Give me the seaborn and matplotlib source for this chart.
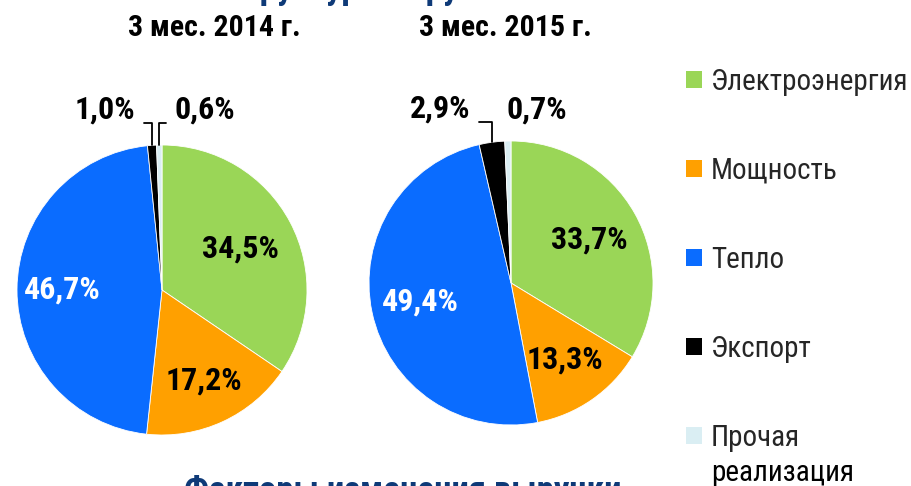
import numpy as np
import matplotlib
matplotlib.use("Agg")
import matplotlib.pyplot as plt
from matplotlib import font_manager
from matplotlib.patches import Patch
import seaborn as sns

# data
categories = ["Электроэнергия", "Мощность", "Тепло", "Экспорт", "Прочая"]
last_label_tail = "реализация"
share_2014 = [34.5, 17.2, 46.7, 1.0, 0.6]
share_2015 = [33.7, 13.3, 49.4, 2.9, 0.7]
labels_2014 = ["34,5%", "17,2%", "46,7%", "1,0%", "0,6%"]
labels_2015 = ["33,7%", "13,3%", "49,4%", "2,9%", "0,7%"]
period_titles = ["3 мес. 2014 г.", "3 мес. 2015 г."]

colors = ["#9ad657", "#ffa000", "#0a6cff", "#000000", "#daeef3"]
navy = "#0e3a78"

sns.set_theme(style="white")
names = {f.name for f in font_manager.fontManager.ttflist}
base, k = "Liberation Sans", 0.82
for cand in ["Liberation Sans Narrow", "Arial Narrow", "Roboto Condensed", "PT Sans Narrow", "Archivo Narrow"]:
    if cand in names:
        base, k = cand, 1.0
        break
plt.rcParams["font.family"] = [base, "DejaVu Sans"]
fs_pct, fs_title, fs_leg, fs_head = 23 * k, 21.5 * k, 21 * k, 25 * k

W, H = 912, 486
fig = plt.figure(figsize=(W / 100, H / 100), dpi=100)
ax = fig.add_axes([0, 0, 1, 1])


def draw_pie(values, labels, center, radius, inner, outer):
    wedges, _ = ax.pie(values, colors=colors, startangle=90, counterclock=False,
                       center=center, radius=radius, frame=True,
                       wedgeprops=dict(edgecolor="white", linewidth=0.6))
    cx, cy = center
    for i, w in enumerate(wedges):
        mid = np.deg2rad((w.theta1 + w.theta2) / 2)
        if i in inner:
            r = inner[i]
            col = "white" if i == 2 else "black"
            ax.text(cx + r * radius * np.cos(mid), cy + r * radius * np.sin(mid),
                    labels[i], ha="center", va="center", fontsize=fs_pct,
                    fontweight="bold", color=col)
        else:
            dx, dy, side = outer[i]
            edge = (cx + radius * np.cos(mid), cy + radius * np.sin(mid))
            if side is None:
                ax.text(cx + dx, cy + dy, labels[i], ha="center", va="center",
                        fontsize=fs_pct, fontweight="bold", color="black")
            else:
                ax.annotate(labels[i], xy=edge, xytext=(cx + dx, cy + dy),
                            ha="center", va="center", fontsize=fs_pct,
                            fontweight="bold", color="black",
                            arrowprops=dict(arrowstyle="-", color="black", lw=1.3,
                                            connectionstyle="angle,angleA=0,angleB=90,rad=0",
                                            relpos=(side, 0.08), shrinkA=4, shrinkB=0))
    return wedges


draw_pie(share_2014, labels_2014, (162, 196), 145,
         {0: 0.61, 1: 0.69, 2: 0.69},
         {3: (-57, 180, 1), 4: (43, 180, 0)})
draw_pie(share_2015, labels_2015, (511, 203), 142,
         {0: 0.63, 1: 0.66, 2: 0.65},
         {3: (-71, 174, 1), 4: (26, 173, None)})

ax.set_xlim(0, W)
ax.set_ylim(0, H)
ax.set_aspect("equal")
ax.axis("off")

# period titles
for x, t in zip([214, 505], period_titles):
    fig.text(x / W, 1 - 28 / H, t, ha="center", va="center",
             fontsize=fs_title, fontweight="bold", color="black")

# slide headings cut by the frame (as in the source slide)
fig.text(367 / W, 1 + 1 / H, "Структура выручки", ha="center", va="baseline",
         fontsize=fs_head, fontweight="bold", color=navy)
fig.text(403 / W, 1 - 475 / H, "Факторы изменения выручки", ha="center", va="top",
         fontsize=fs_head, fontweight="bold", color=navy)

handles = [Patch(facecolor=c, edgecolor="none") for c in colors]
leg = ax.legend(handles, categories, loc="upper left", bbox_to_anchor=(686 / W, 1 - 68 / H),
                bbox_transform=fig.transFigure, frameon=False, fontsize=fs_leg,
                handlelength=0.55, handleheight=0.55, handletextpad=0.3,
                labelspacing=2.09, borderaxespad=0, borderpad=0)

# second line of the last legend label
fig.canvas.draw()
bb = leg.get_texts()[-1].get_window_extent()
fig.text(bb.x0 / W, (bb.y0 + bb.height / 2 - 35) / H,
         last_label_tail, ha="left", va="center", fontsize=fs_leg, color="black")

fig.savefig("out.png", dpi=100)
